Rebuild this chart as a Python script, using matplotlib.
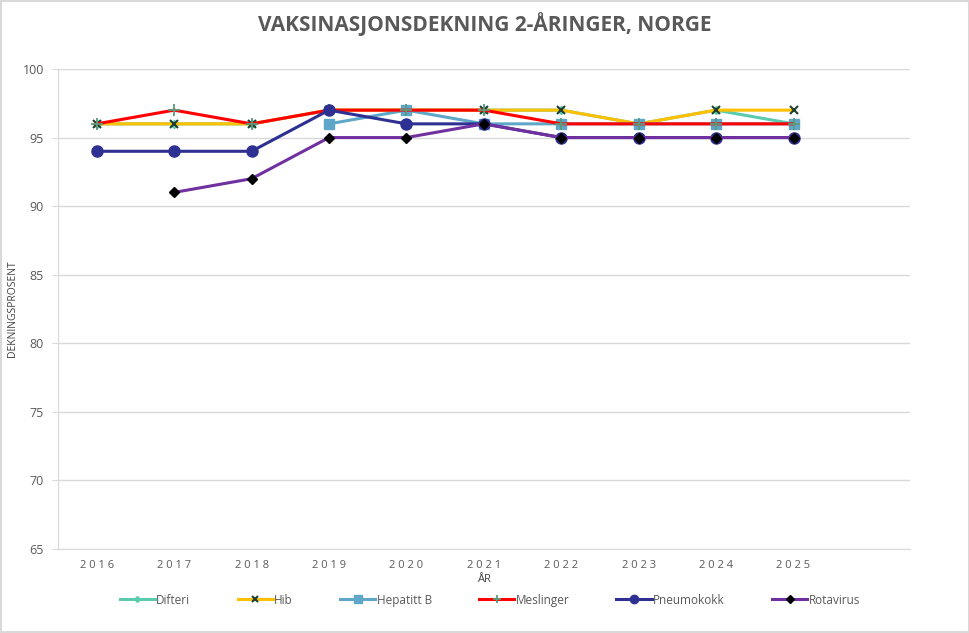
import matplotlib.pyplot as plt
from matplotlib.patches import Rectangle

plt.rcParams['font.family'] = ['Liberation Sans Narrow', 'Open Sans', 'DejaVu Sans']

years = [2016, 2017, 2018, 2019, 2020, 2021, 2022, 2023, 2024, 2025]
year_labels = ['2 0 1 6', '2 0 1 7', '2 0 1 8', '2 0 1 9', '2 0 2 0',
               '2 0 2 1', '2 0 2 2', '2 0 2 3', '2 0 2 4', '2 0 2 5']
difteri = [96, 96, 96, 97, 97, 97, 97, 96, 97, 96]
hib = [96, 96, 96, 97, 97, 97, 97, 96, 97, 97]
hepatitt_b = [None, None, None, 96, 97, 96, 96, 96, 96, 96]
meslinger = [96, 97, 96, 97, 97, 97, 96, 96, 96, 96]
pneumokokk = [94, 94, 94, 97, 96, 96, 95, 95, 95, 95]
rotavirus = [None, 91, 92, 95, 95, 96, 95, 95, 95, 95]

def clean(vals):
    xs = [y for y, v in zip(years, vals) if v is not None]
    ys = [v for v in vals if v is not None]
    return xs, ys

fig = plt.figure(figsize=(9.7, 6.33), dpi=100)
fig.patches.append(Rectangle((0.001, 0.001), 0.998, 0.998, transform=fig.transFigure,
                             fill=False, edgecolor='#d9d9d9', lw=1.5))
ax = fig.add_axes([0.0598, 0.1327, 0.878, 0.7583])

series = [
    ('Difteri', difteri, '#5bcbae', dict(marker='D', markersize=4, markerfacecolor='#5bcbae', markeredgecolor='#5bcbae')),
    ('Hib', hib, '#ffc000', dict(marker='x', markersize=6, markeredgecolor='#1f3f2f', markeredgewidth=1.5)),
    ('Hepatitt B', hepatitt_b, '#5ea7c9', dict(marker='s', markersize=7, markerfacecolor='#5ea7c9', markeredgecolor='#5ea7c9')),
    ('Meslinger', meslinger, '#ff0000', dict(marker='+', markersize=8, markeredgecolor='#5b9a7a', markeredgewidth=1.3)),
    ('Pneumokokk', pneumokokk, '#2e3192', dict(marker='o', markersize=8, markerfacecolor='#2e3192', markeredgecolor='#2e3192')),
    ('Rotavirus', rotavirus, '#7030a0', dict(marker='D', markersize=5, markerfacecolor='black', markeredgecolor='black')),
]
for name, vals, col, mk in series:
    xs, ys = clean(vals)
    ax.plot(xs, ys, color=col, lw=2.2, label=name, **mk)

ax.set_xlim(2015.5, 2026.5)
ax.set_ylim(65, 100)
ax.set_yticks(range(65, 101, 5))
ax.set_xticks(years)
ax.set_xticklabels(year_labels)
ax.grid(axis='y', color='#d9d9d9', lw=1)
ax.set_axisbelow(True)
for s in ['top', 'right']:
    ax.spines[s].set_visible(False)
ax.spines['left'].set_color('#d9d9d9')
ax.spines['bottom'].set_color('#d9d9d9')
ax.tick_params(axis='x', length=0, labelsize=8, labelcolor='#595959', pad=8)
ax.tick_params(axis='y', length=4, color='#d9d9d9', labelsize=9, labelcolor='#595959', pad=6)

ax.set_xlabel('ÅR', fontsize=8, color='#404040', labelpad=2)
ax.set_ylabel('DEKNINGSPROSENT', fontsize=7.5, color='#404040')
ax.yaxis.set_label_coords(-0.047, 0.5)
fig.text(0.5, 0.962, 'VAKSINASJONSDEKNING 2-ÅRINGER, NORGE',
         ha='center', va='center', fontsize=15, fontweight='bold', color='#595959')

leg = fig.legend(loc='center', bbox_to_anchor=(0.505, 0.052), ncol=6, frameon=False,
                 fontsize=8.5, columnspacing=4.0, handlelength=3.0, handletextpad=0.1,
                 markerscale=0.75, labelcolor='#595959')

plt.savefig('out.png', dpi=100)
